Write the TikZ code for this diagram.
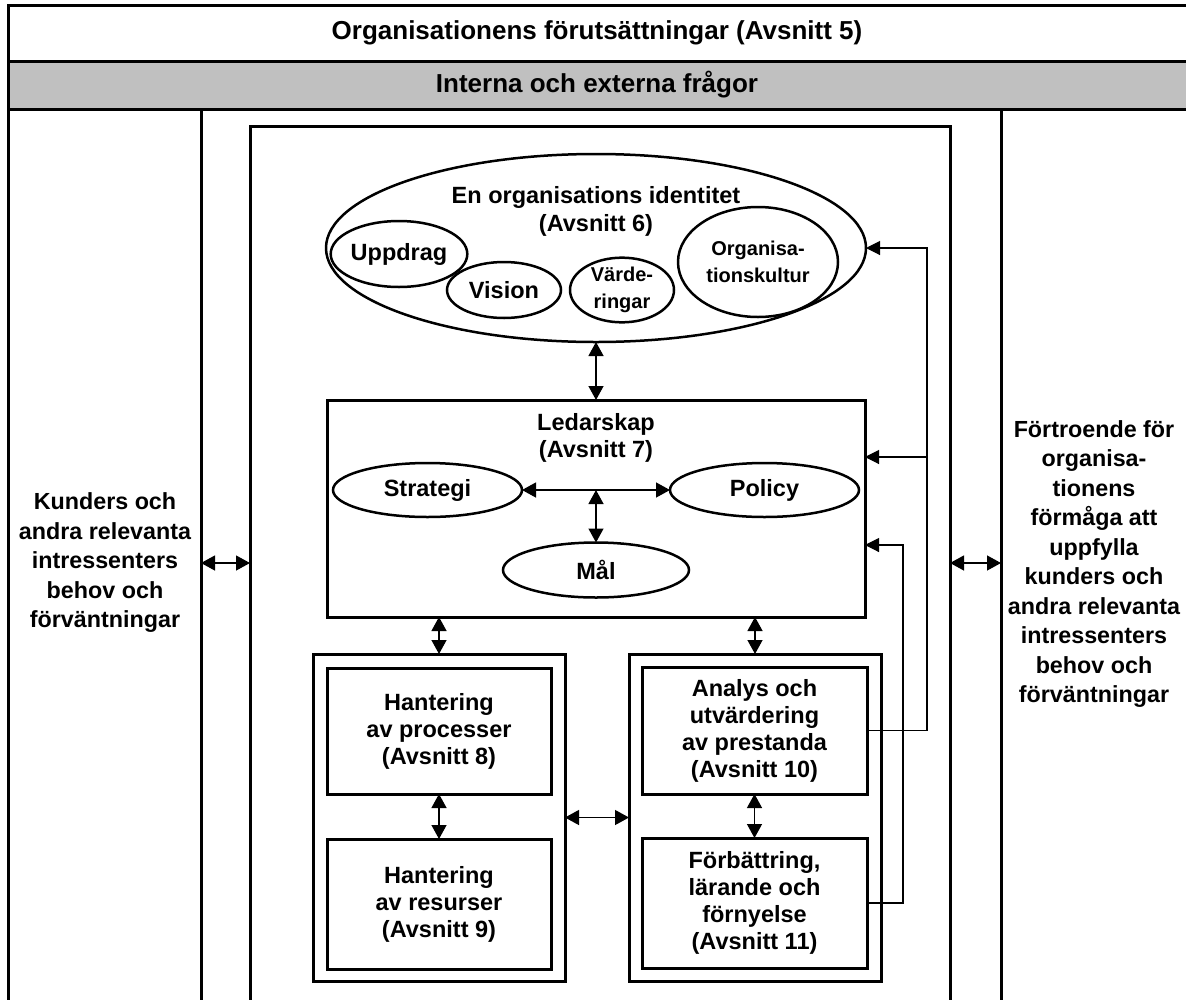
\documentclass[tikz,border=0pt]{standalone}
\usepackage{fontspec}
\setmainfont{Liberation Sans}
\usetikzlibrary{arrows.meta,shapes.geometric}
\definecolor{hdr}{RGB}{192,192,192}
\begin{document}
\begin{tikzpicture}[x=1pt,y=-1pt,
  every node/.style={font=\bfseries\fontsize{23.5}{27}\selectfont, align=center, inner sep=0pt, outer sep=0pt},
  big/.style={font=\bfseries\fontsize{26}{30}\selectfont},
  small/.style={font=\bfseries\fontsize{20}{27}\selectfont},
  side/.style={font=\bfseries\fontsize{23.3}{29.5}\selectfont},
  box/.style={draw, line width=3pt, rectangle},
  ell/.style={draw, line width=2.5pt, ellipse},
  frame/.style={line width=3pt},
  dbl/.style={line width=1.3pt, {Triangle[length=14pt,width=15pt]}-{Triangle[length=14pt,width=15pt]}},
  sgl/.style={line width=1.1pt, -{Triangle[length=14pt,width=14pt]}}]
\useasboundingbox (0,0) rectangle (1186,999);
\clip (0,0) rectangle (1186,999);
% header rows
\fill[hdr] (8,61) rectangle (1200,109);
\draw[frame] (8,1010) -- (8,5) -- (1200,5);
\draw[frame] (8,61) -- (1200,61);
\draw[frame] (8,109) -- (1200,109);
\draw[frame] (201,109) -- (201,1010);
\draw[frame] (1001,109) -- (1001,1010);
\draw[frame] (250,1010) -- (250,126) -- (950,126) -- (950,1010);
\node[big] (t1) at (597,33) {Organisationens förutsättningar (Avsnitt 5)};
\node[big] (t2) at (597,85) {Interna och externa frågor};
% side texts
\node[side] (kund) at (105,563) {Kunders och\\andra relevanta\\intressenters\\behov och\\förväntningar};
\node[side] (fort) at (1094,564) {Förtroende för\\organisa-\\tionens\\förmåga att\\uppfylla\\kunders och\\andra relevanta\\intressenters\\behov och\\förväntningar};
\coordinate (vL1) at (201,563);
\coordinate (vL2) at (250,563);
\coordinate (vR1) at (950,563);
\coordinate (vR2) at (1001,563);
\draw[dbl] (vL1) -- (vL2);
\draw[dbl] (vR1) -- (vR2);
% identity
\node[ell, minimum width=540, minimum height=188] (ident) at (596,248) {};
\node[font=\bfseries\fontsize{23.5}{28}\selectfont] (identt) at (596,211) {En organisations identitet\\(Avsnitt 6)};
\node[ell, minimum width=116, minimum height=66] (upp) at (399,254) {Uppdrag};
\node[ell, minimum width=114, minimum height=56] (vis) at (504,290) {Vision};
\node[ell, small, minimum width=104, minimum height=62] (vard) at (622,290) {Värde-\\ringar};
\node[ell, small, minimum width=160, minimum height=110] (orgk) at (758,262) {Organisa-\\tionskultur};
% leadership
\node[box, minimum width=538, minimum height=217] (led) at (596,508.5) {};
\node (ledt) at (596,438) {Ledarskap\\(Avsnitt 7)};
\node[ell, minimum width=189, minimum height=54] (strat) at (427.5,490) {Strategi};
\node[ell, minimum width=189, minimum height=54] (pol) at (764.5,490) {Policy};
\node[ell, minimum width=186, minimum height=55] (mal) at (596,570) {Mål};
\coordinate (mid) at (596,490);
\draw[dbl] (strat) -- (pol);
\draw[dbl] (mid) -- (mal);
\draw[dbl] (ident.south) -- (led.north);
% groups
\node[box, minimum width=252, minimum height=327] (lg) at (439,817.5) {};
\node[box, minimum width=224, minimum height=126] (p8) at (439,731) {Hantering\\av processer\\(Avsnitt 8)};
\node[box, minimum width=224, minimum height=130] (p9) at (439,904) {Hantering\\av resurser\\(Avsnitt 9)};
\node[box, minimum width=252, minimum height=327] (rg) at (755,817.5) {};
\node[box, minimum width=225, minimum height=127] (p10) at (754.5,730.5) {Analys och\\utvärdering\\av prestanda\\(Avsnitt 10)};
\node[box, minimum width=225, minimum height=130] (p11) at (754.5,903) {Förbättring,\\lärande och\\förnyelse\\(Avsnitt 11)};
\draw[dbl] (led.south -| lg.north) -- (lg.north);
\draw[dbl] (led.south -| rg.north) -- (rg.north);
\draw[dbl] (p8) -- (p9);
\draw[dbl] (p10) -- (p11);
\draw[dbl] (lg) -- (rg);
% feedback
\coordinate (fx1) at (927,0);
\coordinate (fx2) at (903,0);
\path (led.east) ++(0,-51.5) coordinate (a1);
\path (led.east) ++(0,36.5) coordinate (a2);
\draw[sgl] (p10.east) -- (p10.east -| fx1) -- (fx1 |- ident.east) -- (ident.east);
\draw[sgl] (fx1 |- a1) -- (a1);
\draw[sgl] (p11.east) -- (p11.east -| fx2) -- (fx2 |- a2) -- (a2);
\end{tikzpicture}
\end{document}
